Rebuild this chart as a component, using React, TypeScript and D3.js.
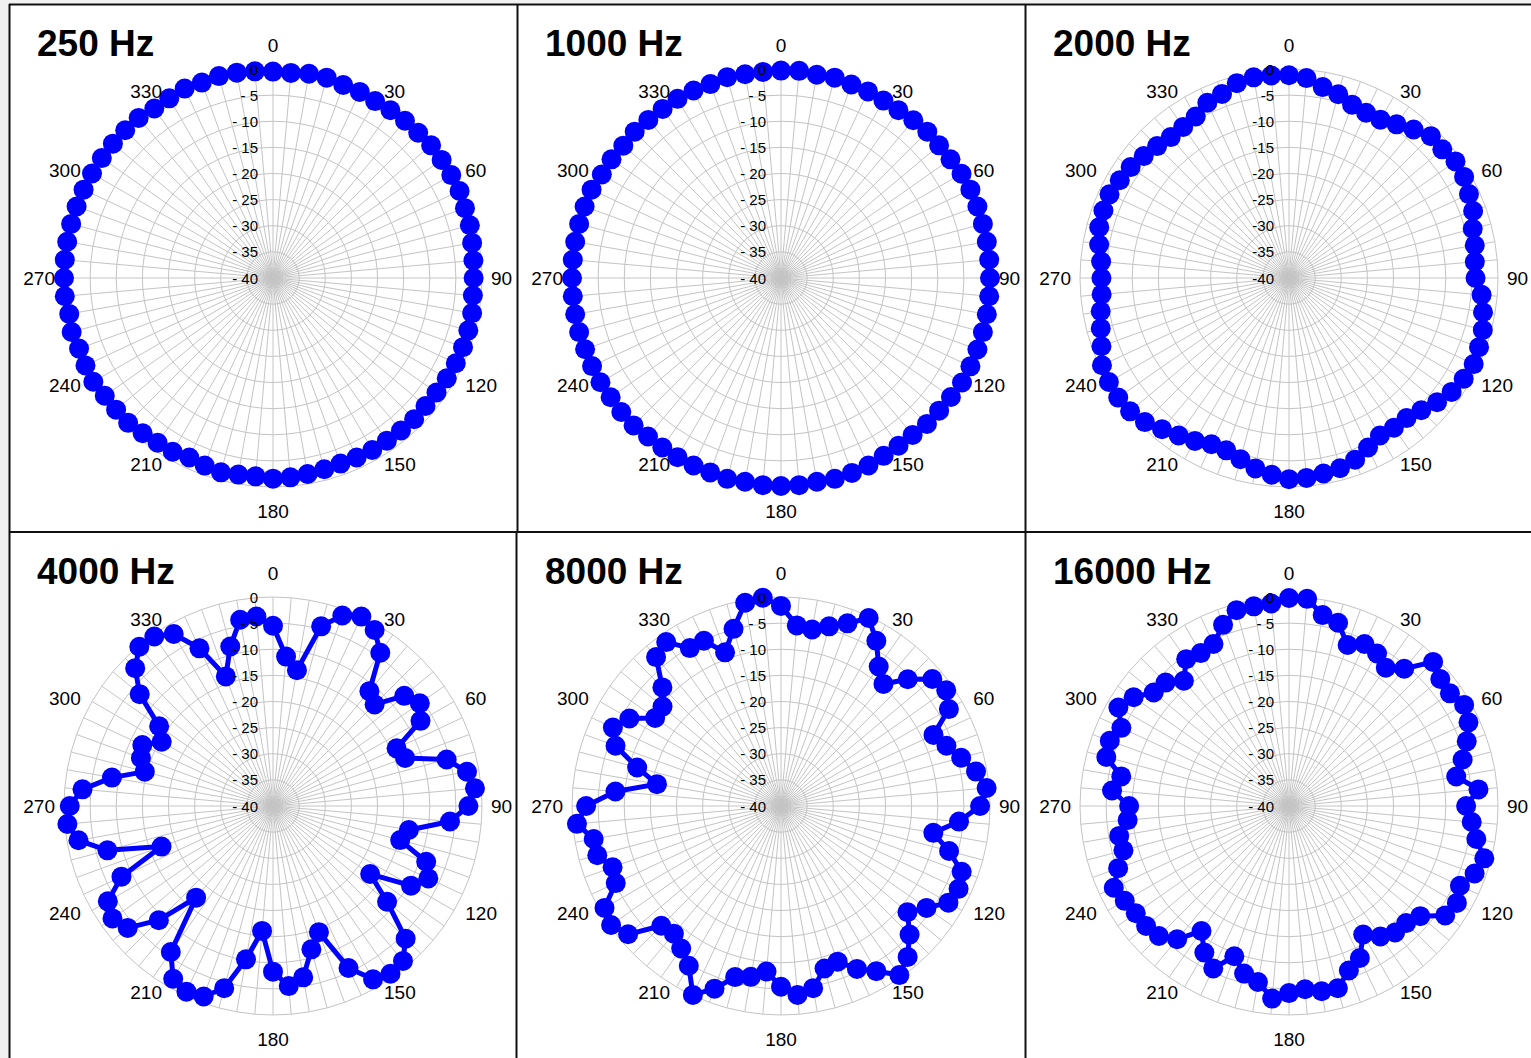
import { useEffect, useRef } from 'react';
import * as d3 from 'd3';

// 72 measurement directions, every 5 degrees
const ANGLES = d3.range(0, 360, 5);
const ANGLE_TICKS = [0, 30, 60, 90, 120, 150, 180, 210, 240, 270, 300, 330];
const DB_TICKS = [0, -5, -10, -15, -20, -25, -30, -35, -40];
const TITLES = ['250 Hz', '1000 Hz', '2000 Hz', '4000 Hz', '8000 Hz', '16000 Hz'];

// level in dB per direction (0..355 deg)
const db250 = [-0.5, -0.6, -0.3, -0.3, -0.7, -0.7, -0.9, -0.8, -0.7, -0.7, -0.5, -0.6, -0.6, -0.6, -0.9, -1.0, -1.3, -1.5, -1.6, -1.6, -1.3, -1.3, -1.3, -1.4, -1.6, -1.8, -1.9, -1.8, -1.9, -2.0, -2.0, -2.1, -2.2, -2.1, -1.9, -1.7, -1.6, -1.9, -1.8, -1.5, -1.8, -2.1, -1.6, -1.5, -1.2, -0.8, -0.8, -0.7, -0.3, -0.4, -0.5, -0.1, -0.4, 0, 0, 0, 0, 0, 0, 0, 0, 0, 0, 0, 0, -0.4, -0.3, 0, -0.2, 0, -0.1, -0.3];
const db1000 = [-0.3, -0.2, -0.5, -0.3, -0.6, -0.6, -0.8, -0.8, -0.6, -0.4, -0.5, -0.4, -0.1, 0, 0, 0, 0, 0, 0, 0, 0, 0, 0, 0, 0, -0.3, -0.5, -0.5, -0.8, -0.8, -0.7, -0.4, -0.3, -0.2, -0.4, -0.2, -0.2, -0.2, -0.4, -0.2, -0.4, -0.4, -0.4, -0.4, -0.4, -0.1, -0.1, -0.2, -0.1, -0.1, -0.1, 0, 0, 0, 0, 0, 0, 0, 0, 0, -0.4, -0.4, -0.6, -0.4, -0.5, -0.5, -0.4, -0.4, -0.5, -0.2, -0.4, -0.4];
const db2000 = [-1.2, -1.6, -2.9, -3.6, -4.7, -5.1, -5.0, -4.1, -2.9, -1.6, -1.7, -1.1, -1.3, -2.0, -2.5, -3.6, -3.9, -4.3, -4.3, -3.0, -2.3, -1.6, -1.3, -1.0, -1.4, -2.0, -3.0, -4.2, -5.0, -5.0, -5.2, -4.2, -3.0, -2.3, -2.0, -1.6, -1.5, -2.2, -3.0, -4.1, -4.9, -4.9, -4.0, -3.2, -2.2, -1.0, -0.3, -0.1, -0.2, -0.5, -1.8, -2.7, -3.4, -4.0, -4.1, -3.9, -3.1, -2.4, -2.2, -2.1, -2.6, -3.0, -3.7, -4.3, -4.8, -4.7, -4.3, -3.0, -2.5, -1.4, -1.0, -1.1];
const db4000 = [-5.5, -11.3, -13.6, -4.4, -1.2, 0, -1.1, -4.2, -11.3, -12.5, -7.2, -5.7, -7.4, -13.9, -13.1, -5.6, -2.3, -1.2, -2.6, -6.0, -13.6, -14.8, -8.8, -7.2, -9.5, -17.3, -11.5, -4.1, -1.3, -0.8, -1.7, -5.8, -14.3, -11.6, -6.7, -5.4, -8.3, -16.0, -10.2, -3.9, -1.2, -0.8, -1.8, -5.9, -17.1, -9.1, -3.7, -2.5, -3.5, -8.0, -17.3, -7.2, -2.2, -0.5, -1.1, -3.4, -8.7, -14.6, -13.1, -12.4, -15.4, -13.4, -6.7, -2.7, -0.2, -0.4, -2.0, -6.7, -13.6, -8.4, -3.8, -3.6];
const db8000 = [-1.7, -5.3, -5.7, -4.4, -2.8, -0.3, -3.5, -7.4, -9.5, -5.7, -2.2, -1.4, -2.9, -7.8, -6.3, -4.3, -2.1, -0.5, -1.9, -5.8, -10.4, -6.7, -3.2, -2.5, -3.0, -6.0, -8.4, -5.2, -2.3, -0.5, -3.5, -5.6, -8.3, -7.8, -4.6, -3.7, -5.4, -8.2, -6.8, -6.1, -2.8, -0.1, -4.7, -6.7, -8.1, -7.6, -1.8, -0.3, -1.0, -5.1, -5.7, -3.6, -3.6, -0.8, -2.7, -8.2, -15.9, -11.5, -6.3, -4.5, -6.5, -10.6, -10.4, -7.9, -2.8, -1.7, -5.1, -5.1, -8.7, -4.9, -0.5, 0];
const db16000 = [-0.2, -0.2, -2.9, -3.7, -7.2, -5.8, -6.3, -7.7, -5.7, -1.0, -2.2, -2.4, -1.3, -2.1, -3.8, -5.6, -7.5, -3.6, -6.1, -4.9, -3.6, -1.3, -2.2, -3.9, -2.9, -3.5, -7.2, -8.3, -8.4, -9.5, -11.6, -7.9, -6.5, -3.9, -4.0, -4.8, -4.2, -3.0, -5.8, -6.8, -9.4, -5.7, -7.6, -10.8, -6.7, -4.8, -4.3, -4.2, -3.7, -3.0, -5.2, -7.2, -7.0, -9.0, -9.4, -6.0, -7.4, -3.8, -3.5, -4.6, -2.3, -3.7, -6.2, -6.6, -8.7, -5.7, -6.2, -5.8, -3.1, -1.2, -1.2, -1.1];

const SERIES = [db250, db1000, db2000, db4000, db8000, db16000];

const W = 1531;
const H = 1058;
const COL_X = [9, 517, 1025];
const ROW_Y = [4, 532];
const R = 209;
const FONT = 'Liberation Sans, Arial, sans-serif';

export default function App() {
  const svgRef = useRef<SVGSVGElement>(null);

  useEffect(() => {
    const svg = d3.select(svgRef.current);
    svg.selectAll('*').remove();

    // page background + white chart area
    svg.append('rect').attr('width', W).attr('height', H).attr('fill', '#f1f1f1');
    svg.append('rect').attr('x', 9).attr('y', 4).attr('width', W - 9).attr('height', H - 4).attr('fill', '#fff');

    const r = d3.scaleLinear().domain([-40, 0]).range([0, R]);
    const a = d3.scaleLinear().domain([0, 360]).range([0, 2 * Math.PI]);
    const px = (deg: number, v: number) => r(v) * Math.sin(a(deg));
    const py = (deg: number, v: number) => -r(v) * Math.cos(a(deg));

    SERIES.forEach((values, i) => {
      const col = i % 3;
      const row = Math.floor(i / 3);
      const cx = COL_X[col] + 264;
      const cy = ROW_Y[row] + 274;
      const g = svg.append('g').attr('transform', `translate(${cx},${cy})`);

      // rings (72-gons like the radar gridlines)
      DB_TICKS.filter(t => t > -40).forEach(t => {
        const ring = d3.lineRadial<number>()
          .angle(d => a(d))
          .radius(() => r(t))
          .curve(d3.curveLinearClosed);
        g.append('path')
          .attr('d', ring(ANGLES))
          .attr('fill', 'none')
          .attr('stroke', '#c4c4c4')
          .attr('stroke-width', 1);
      });

      // spokes
      g.selectAll('.spoke')
        .data(ANGLES)
        .enter()
        .append('line')
        .attr('x1', 0)
        .attr('y1', 0)
        .attr('x2', d => px(d, 0))
        .attr('y2', d => py(d, 0))
        .attr('stroke', '#c4c4c4')
        .attr('stroke-width', 1);

      // data line + markers
      const line = d3.lineRadial<number>()
        .angle((_, k) => a(ANGLES[k]))
        .radius(d => r(d))
        .curve(d3.curveLinearClosed);

      g.append('path')
        .attr('d', line(values))
        .attr('fill', 'none')
        .attr('stroke', '#0000ff')
        .attr('stroke-width', 5)
        .attr('stroke-linejoin', 'round');

      g.selectAll('.dot')
        .data(values)
        .enter()
        .append('circle')
        .attr('cx', (d, k) => px(ANGLES[k], d))
        .attr('cy', (d, k) => py(ANGLES[k], d))
        .attr('r', 10)
        .attr('fill', '#0000ff');

      // radial tick labels
      const spaced = i !== 2;
      DB_TICKS.forEach(t => {
        g.append('text')
          .attr('x', -15)
          .attr('y', -r(t))
          .attr('text-anchor', 'end')
          .attr('dominant-baseline', 'central')
          .style('font-family', FONT)
          .style('font-size', '15px')
          .style('fill', '#000')
          .text(t === 0 ? '0' : (spaced ? '- ' : '-') + Math.abs(t));
      });

      // angle labels
      ANGLE_TICKS.forEach(deg => {
        const s = Math.sin(a(deg));
        const c = Math.cos(a(deg));
        const vertical = Math.abs(s) < 0.01;
        const horizontal = Math.abs(c) < 0.01;
        g.append('text')
          .attr('x', vertical ? 0 : s * (horizontal ? 218 : 222))
          .attr('y', vertical ? -c * 233 : -c * 215)
          .attr('text-anchor', vertical ? 'middle' : s > 0 ? 'start' : 'end')
          .attr('dominant-baseline', 'central')
          .style('font-family', FONT)
          .style('font-size', '19px')
          .style('fill', '#000')
          .text(deg);
      });

      // panel title
      svg.append('text')
        .attr('x', COL_X[col] + 28)
        .attr('y', ROW_Y[row] + 52)
        .style('font-family', FONT)
        .style('font-size', '37px')
        .style('font-weight', 'bold')
        .style('fill', '#000')
        .text(TITLES[i]);
    });

    // panel frame
    const frame = [
      [9, 4.5, W, 4.5],
      [9, 532, W, 532],
      [9.5, 4, 9.5, H],
      [517.5, 4, 517.5, 532],
      [516.5, 532, 516.5, H],
      [1025.5, 4, 1025.5, H],
    ];
    svg.selectAll('.frame')
      .data(frame)
      .enter()
      .append('line')
      .attr('x1', d => d[0])
      .attr('y1', d => d[1])
      .attr('x2', d => d[2])
      .attr('y2', d => d[3])
      .attr('stroke', '#111')
      .attr('stroke-width', 2);
  }, []);

  return (
    <div style={{ position: 'absolute', left: 0, top: 0 }}>
      <svg ref={svgRef} width={W} height={H} style={{ display: 'block' }}></svg>
    </div>
  );
}
